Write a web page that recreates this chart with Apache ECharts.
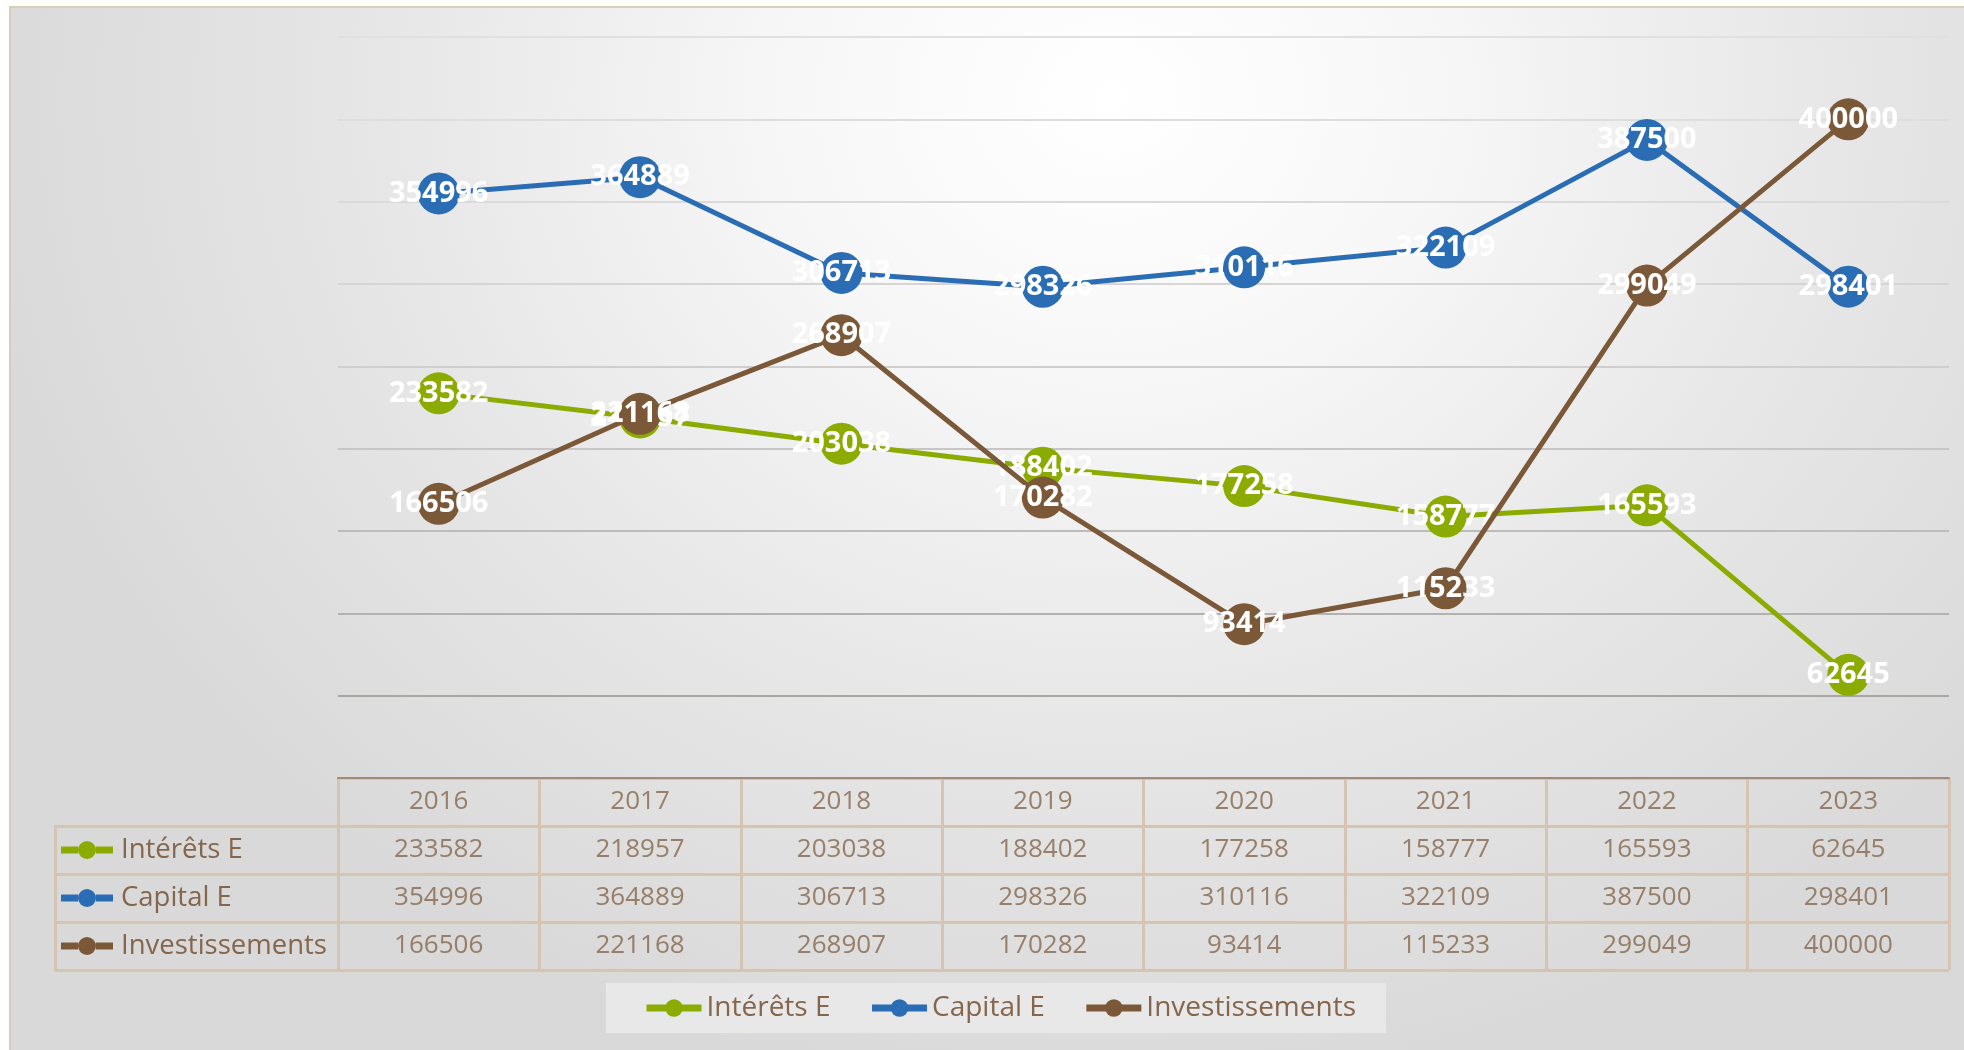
<!DOCTYPE html>
<html>
<head>
<meta charset="utf-8">
<script src="https://cdn.jsdelivr.net/npm/echarts@6/dist/echarts.min.js"></script>
<style>
  html, body { margin: 0; padding: 0; background: #ffffff; overflow: hidden; }
  #bg {
    position: absolute; left: 9px; top: 6px; width: 1970px; height: 1060px;
    border: 2px solid #d9ccba;
    background: radial-gradient(ellipse 1150px 1000px at 1100px 90px, #ffffff 0%, #f7f7f7 28%, #e6e6e6 65%, #d9d9d9 100%);
  }
  #main { position: absolute; left: 0; top: 0; width: 1964px; height: 1050px; }
</style>
</head>
<body>
<div id="bg"></div>
<div id="main"></div>
<script>
// données du graphique
var years = ['2016', '2017', '2018', '2019', '2020', '2021', '2022', '2023']
var seriesNames = ['Intérêts E', 'Capital E', 'Investissements']
var interets = [233582, 218957, 203038, 188402, 177258, 158777, 165593, 62645]
var capital = [354996, 364889, 306713, 298326, 310116, 322109, 387500, 298401]
var investissements = [166506, 221168, 268907, 170282, 93414, 115233, 299049, 400000]

var allValues = [interets, capital, investissements]
var colors = ['#8cab00', '#2b6db4', '#7a5838']
var textColor = '#84664c'
var borderColor = '#d6c4b2'
// gridlines get lighter towards the top (bottom line first)
var gridColors = ['#aca7a2', '#aaa6a2', '#b4b1ae', '#bebcba', '#c8c6c4', '#d0cecc', '#d6d5d4', '#dadada', '#dddddd', '#e0e0e0']
var fontFamily = '"Open Sans", "Liberation Sans", sans-serif'

var chart = echarts.init(document.getElementById('main'))

// cells of the data table (header row = years)
let tableCells = []
years.forEach((y, i) => {
  tableCells.push([i, 0, y])
  allValues.forEach((vals, r) => {
    tableCells.push([i, r + 1, String(vals[i])])
  })
})

// rich styles for the row labels (line - dot - line)
let rich = {
  t: { color: textColor, fontSize: 27.5, fontFamily: fontFamily, padding: [0, 0, 0, 8] }
}
colors.forEach((c, i) => {
  rich['l' + i] = { width: 17, height: 7, backgroundColor: c }
  rich['d' + i] = { width: 18, height: 18, borderRadius: 9, backgroundColor: c }
})

var lineSeries = seriesNames.map((name, i) => {
  return {
    name: name,
    type: 'line',
    xAxisIndex: 0,
    yAxisIndex: 0,
    data: allValues[i],
    symbol: 'circle',
    symbolSize: 42,
    lineStyle: { width: 5, color: colors[i] },
    itemStyle: { color: colors[i] },
    label: {
      show: true,
      position: 'inside',
      color: '#ffffff',
      fontSize: 29,
      fontWeight: 'bold',
      fontFamily: fontFamily
    },
    emphasis: { disabled: true },
    z: 3 + i
  }
})

var option = {
  animation: false,
  color: colors,
  textStyle: { fontFamily: fontFamily },
  legend: {
    data: seriesNames,
    left: 606,
    top: 983,
    padding: [11, 30, 11, 37],
    backgroundColor: '#e8e8e8',
    itemWidth: 55,
    itemHeight: 22,
    itemGap: 38,
    lineStyle: { width: 7 },
    textStyle: { color: textColor, fontSize: 28, fontFamily: fontFamily }
  },
  grid: [
    // plot area
    { left: 338, top: 37, width: 1611, height: 741 },
    // data table cells
    { left: 338, top: 778, width: 1611, height: 192 },
    // row names column
    { left: 55, top: 826, width: 283, height: 144 }
  ],
  xAxis: [
    {
      gridIndex: 0,
      type: 'category',
      data: years,
      boundaryGap: true,
      axisLine: { show: true, lineStyle: { color: '#a38c77', width: 2 } },
      axisTick: { show: false },
      axisLabel: { show: false },
      splitLine: { show: false },
      z: 5
    },
    {
      gridIndex: 1,
      type: 'category',
      data: years,
      boundaryGap: true,
      axisLine: { show: false },
      axisTick: { show: false },
      axisLabel: { show: false },
      splitLine: { show: true, lineStyle: { color: borderColor, width: 3 } }
    },
    {
      gridIndex: 2,
      type: 'value',
      min: 0,
      max: 1,
      show: false
    }
  ],
  yAxis: [
    {
      gridIndex: 0,
      type: 'value',
      min: 0,
      max: 450000,
      interval: 50000,
      axisLine: { show: false },
      axisTick: { show: false },
      axisLabel: { show: false },
      splitLine: { show: true, lineStyle: { color: gridColors, width: 2 } }
    },
    {
      gridIndex: 1,
      type: 'category',
      inverse: true,
      data: ['Année'].concat(seriesNames),
      axisLine: { show: true, lineStyle: { color: borderColor, width: 3 } },
      axisTick: { show: false },
      axisLabel: { show: false },
      splitLine: { show: true, lineStyle: { color: borderColor, width: 3 } }
    },
    {
      gridIndex: 2,
      type: 'category',
      inverse: true,
      data: seriesNames,
      axisLine: { show: true, lineStyle: { color: borderColor, width: 3 } },
      axisTick: { show: false },
      splitLine: { show: true, lineStyle: { color: borderColor, width: 3 } },
      axisLabel: {
        inside: true,
        margin: 6,
        formatter: function (value, index) {
          return '{l' + index + '|}{d' + index + '|}{l' + index + '|}{t|' + value + '}'
        },
        rich: rich
      }
    }
  ],
  series: lineSeries.concat([
    {
      type: 'scatter',
      xAxisIndex: 1,
      yAxisIndex: 1,
      data: tableCells,
      symbolSize: 1,
      silent: true,
      itemStyle: { color: 'transparent' },
      label: {
        show: true,
        position: 'inside',
        color: textColor,
        fontSize: 26,
        fontFamily: fontFamily,
        formatter: function (p) {
          return p.value[2]
        }
      }
    }
  ])
}

chart.setOption(option)
</script>
</body>
</html>
